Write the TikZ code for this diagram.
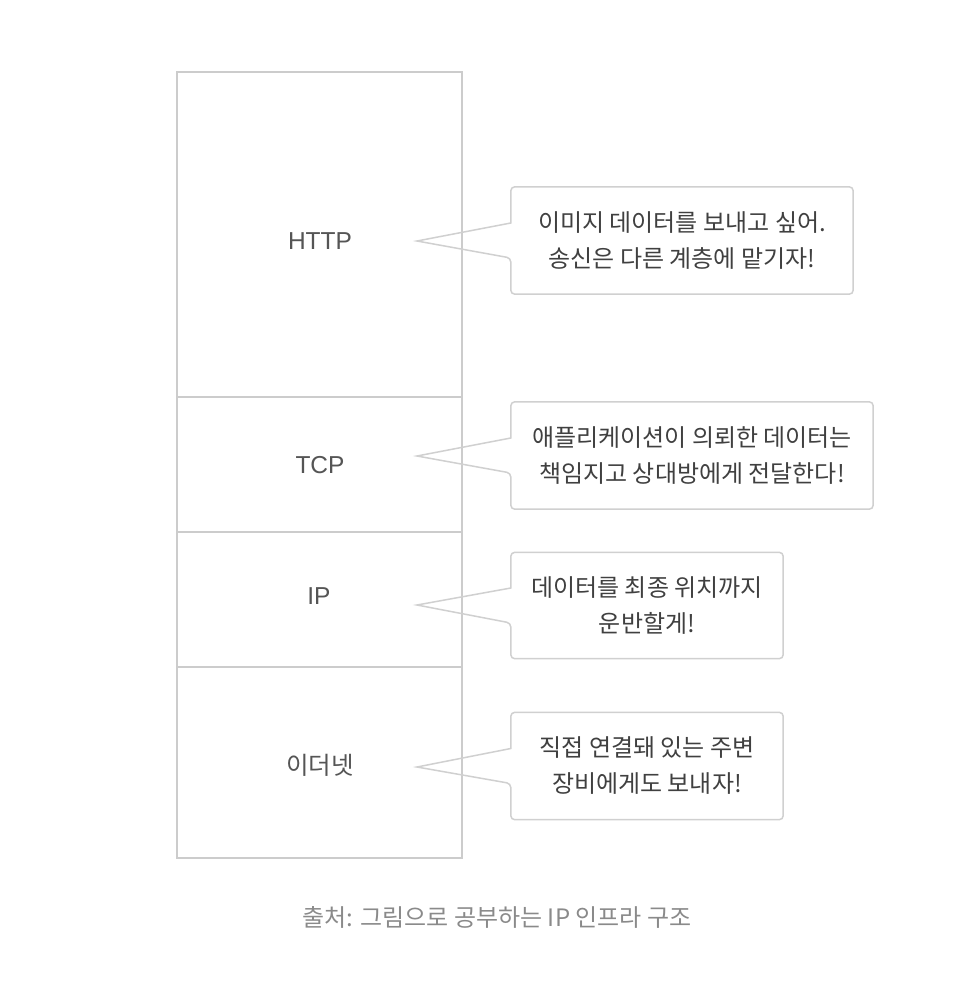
\documentclass[tikz,border=0pt]{standalone}
\usepackage{fontspec}
\setmainfont{Noto Sans CJK KR}
\newfontfamily\latinfont{Liberation Sans}
\usetikzlibrary{calc}
\definecolor{boxline}{HTML}{CCCCCC}
\definecolor{calline}{HTML}{D0D0D0}
\definecolor{labtext}{HTML}{555555}
\definecolor{caltext}{HTML}{404040}
\definecolor{captext}{HTML}{8A8A8A}
\tikzset{
  layerbox/.style={draw=boxline, line width=1.5pt},
  layerlabel/.style={text=labtext, font=\fontsize{24.5}{28}\selectfont, inner sep=0pt},
  latinlabel/.style={layerlabel, font=\latinfont\fontsize{24.5}{28}\selectfont},
  callbox/.style={rectangle, inner sep=0pt, align=center, text=caltext,
     font=\fontsize{24}{36}\selectfont},
  callline/.style={draw=calline, line width=1.5pt, line join=miter},
  caption/.style={text=captext, font=\fontsize{24}{28}\selectfont, inner sep=0pt}
}
\begin{document}
\begin{tikzpicture}[x=1pt,y=-1pt]
\useasboundingbox[fill=white] (0,0) rectangle (974,996);
% layer stack
\draw[layerbox] (177,72) rectangle (462,397);
\draw[layerbox] (177,397) rectangle (462,532);
\draw[layerbox] (177,532) rectangle (462,667);
\draw[layerbox] (177,667) rectangle (462,858);
\node[latinlabel] (http) at (320,241) {HTTP};
\node[latinlabel] (tcp) at (320,465) {TCP};
\node[latinlabel] (ip) at (319,596) {IP};
\node[layerlabel] (eth) at (320,765) {이더넷};
% tips
\coordinate (t1) at (417,241);
\coordinate (t2) at (417,456);
\coordinate (t3) at (417,605);
\coordinate (t4) at (417,767);
% callouts
\node[callbox, minimum width=342pt, minimum height=107pt] (c1) at (682,240.5)
  {이미지 데이터를 보내고 싶어.\\송신은 다른 계층에 맡기자!};
\node[callbox, minimum width=362pt, minimum height=107pt] (c2) at (692,455.5)
  {애플리케이션이 의뢰한 데이터는\\책임지고 상대방에게 전달한다!};
\node[callbox, minimum width=272pt, minimum height=106pt] (c3) at (647,605.5)
  {데이터를 최종 위치까지\\운반할게!};
\node[callbox, minimum width=272pt, minimum height=107pt] (c4) at (647,766)
  {직접 연결돼 있는 주변\\장비에게도 보내자!};
\foreach \c/\t in {c1/t1,c2/t2,c3/t3,c4/t4}{
  \draw[callline, rounded corners=4pt]
    ($(\c.west)+(0,17.5pt)$) -- (\c.north west) -- (\c.north east)
    -- (\c.south east) -- (\c.south west) -- ($(\c.west)+(0,-17.5pt)$)
    [sharp corners] -- (\t) -- cycle;
}
% caption
\node[caption] (cap) at (497,917) {출처: 그림으로 공부하는 IP 인프라 구조};
\end{tikzpicture}
\end{document}
